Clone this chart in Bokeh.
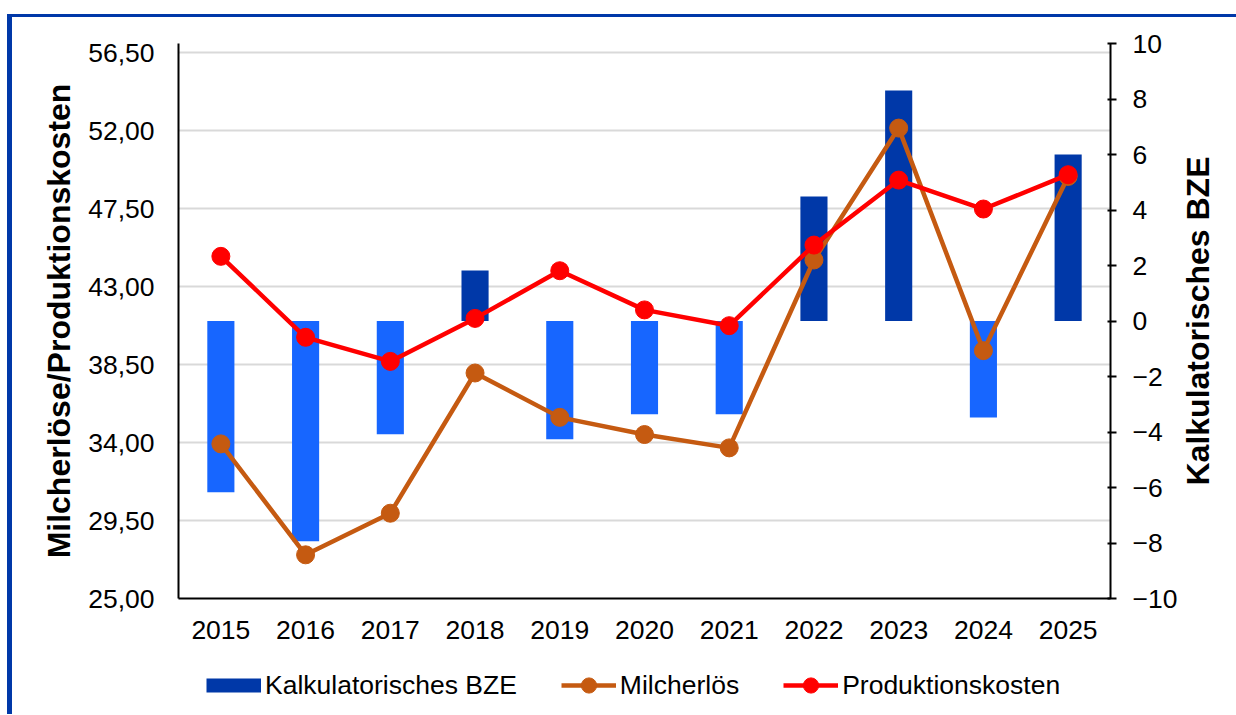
import math
from bokeh.plotting import figure
from bokeh.layouts import column, row
from bokeh.models import (Range1d, LinearAxis, FixedTicker, CustomJSTickFormatter,
                          Legend, LegendItem, ColumnDataSource, Label)
from bokeh.embed import file_html
from bokeh.resources import INLINE

# ---------------- data ----------------
years = ["2015", "2016", "2017", "2018", "2019", "2020", "2021", "2022", "2023", "2024", "2025"]
bze = [-6.17, -7.94, -4.08, 1.82, -4.26, -3.36, -3.36, 4.49, 8.31, -3.48, 6.00]
milcherloes = [33.92, 27.52, 29.92, 38.01, 35.45, 34.46, 33.69, 44.53, 52.14, 39.30, 49.35]
produktionskosten = [44.74, 40.07, 38.68, 41.16, 43.91, 41.65, 40.74, 45.39, 49.14, 47.47, 49.45]
left_ticks = [25.0, 29.5, 34.0, 38.5, 43.0, 47.5, 52.0, 56.5]
right_ticks = [-10, -8, -6, -4, -2, 0, 2, 4, 6, 8, 10]

# ---------------- style ----------------
DARK = "#0038A8"
LIGHT = "#1766FF"
ORANGE = "#C55A11"
RED = "#FF0000"
FONT = "Liberation Sans"
TICK_FS = "26.5px"
TITLE_FS = "32px"

# content origin on the page (inside the blue border)
OX, OY = 12, 17
FL, FT, FR, FB = 178 - OX, 43 - OY, 1111 - OX, 598 - OY   # frame edges in content px
WP, HP = 1180 - OX, 653 - OY          # main chart canvas
WT = 1236 - 1180                      # right title strip
HL = 714 - 653                        # legend strip

p = figure(width=WP, height=HP, x_range=years, y_range=Range1d(25, 57.02),
           output_backend="svg", toolbar_location=None,
           min_border_left=FL, min_border_right=WP - FR,
           min_border_top=FT, min_border_bottom=HP - FB)
p.extra_y_ranges = {"bze": Range1d(-10, 10)}
p.outline_line_color = None
p.background_fill_color = "white"
p.border_fill_color = "white"

# grid
p.xgrid.grid_line_color = None
p.ygrid[0].ticker = FixedTicker(ticks=left_ticks)
p.ygrid.grid_line_color = "#D9D9D9"
p.ygrid.grid_line_width = 2

# left axis
ly = p.yaxis[0]
ly.ticker = FixedTicker(ticks=left_ticks)
ly.formatter = CustomJSTickFormatter(code="return tick.toFixed(2).replace('.', ',');")
ly.major_tick_out = 0
ly.major_tick_in = 0
ly.minor_tick_out = 0
ly.minor_tick_in = 0
ly.axis_line_color = "black"
ly.axis_line_width = 2
ly.major_label_standoff = 24
ly.major_label_text_font = FONT
ly.major_label_text_font_size = TICK_FS
ly.major_label_text_color = "black"
ly.axis_label = "Milcherlöse/Produktionskosten"
ly.axis_label_text_font = FONT
ly.axis_label_text_font_style = "bold"
ly.axis_label_text_font_size = TITLE_FS
ly.axis_label_text_color = "black"
ly.axis_label_standoff = 8

# bottom axis
bx = p.xaxis[0]
bx.major_tick_out = 0
bx.major_tick_in = 0
bx.axis_line_color = "black"
bx.axis_line_width = 2
bx.major_label_standoff = 22
bx.major_label_text_font = FONT
bx.major_label_text_font_size = TICK_FS
bx.major_label_text_color = "black"

# right axis
ry = LinearAxis(y_range_name="bze", ticker=FixedTicker(ticks=right_ticks))
ry.major_tick_out = 6
ry.major_tick_in = 3
ry.minor_tick_out = 0
ry.minor_tick_in = 0
ry.major_tick_line_color = "black"
ry.major_tick_line_width = 2
ry.axis_line_color = "black"
ry.axis_line_width = 2
ry.major_label_standoff = 16
ry.major_label_text_font = FONT
ry.major_label_text_font_size = TICK_FS
ry.major_label_text_color = "black"
p.add_layout(ry, "right")

# bars
colors = [DARK if v >= 0 else LIGHT for v in bze]
src = ColumnDataSource(data=dict(year=years, bze=bze, color=colors))
bars = p.vbar(x="year", top="bze", bottom=0, width=0.32, source=src,
              fill_color="color", line_color=None, y_range_name="bze")

# lines
p.line(years, milcherloes, line_color=ORANGE, line_width=4.5)
p.scatter(years, milcherloes, size=18, fill_color=ORANGE, line_color=ORANGE)
p.line(years, produktionskosten, line_color=RED, line_width=4.5)
p.scatter(years, produktionskosten, size=18, fill_color=RED, line_color=RED)

# ---------------- right axis title strip ----------------
tfig = figure(width=WT, height=HP, x_range=Range1d(0, 1), y_range=Range1d(0, 1),
              output_backend="svg", toolbar_location=None,
              x_axis_location=None, y_axis_location=None,
              min_border_left=0, min_border_right=0, min_border_top=0, min_border_bottom=0)
tfig.grid.visible = False
tfig.outline_line_color = None
tfig.add_layout(Label(x=1197.5 - 1180, y=HP - (320.5 - OY) - 55, x_units="screen", y_units="screen",
                      text="Kalkulatorisches BZE", angle=math.pi / 2,
                      text_align="center", text_baseline="middle",
                      text_font=FONT, text_font_style="bold", text_font_size=TITLE_FS,
                      text_color="black"))

# ---------------- legend strip ----------------
lfig = figure(width=WP + WT, height=HL, x_range=years, y_range=Range1d(0, 1),
              output_backend="svg", toolbar_location=None,
              x_axis_location=None, y_axis_location=None,
              min_border_left=0, min_border_right=0, min_border_top=0, min_border_bottom=0)
lfig.grid.visible = False
lfig.outline_line_color = None
# legend-only renderers (single points outside the strip's range, so nothing is drawn)
sw = lfig.line(x=years[:1], y=bze[:1], line_color=DARK, line_width=14, line_cap="butt")
lm = lfig.line(x=years[:1], y=milcherloes[:1], line_color=ORANGE, line_width=4.5)
sm = lfig.scatter(x=years[:1], y=milcherloes[:1], size=18, fill_color=ORANGE, line_color=ORANGE)
lp = lfig.line(x=years[:1], y=produktionskosten[:1], line_color=RED, line_width=4.5)
sp = lfig.scatter(x=years[:1], y=produktionskosten[:1], size=18, fill_color=RED, line_color=RED)

legend = Legend(items=[
    LegendItem(label="Kalkulatorisches BZE", renderers=[sw]),
    LegendItem(label="Milcherlös", renderers=[lm, sm]),
    LegendItem(label="Produktionskosten", renderers=[lp, sp]),
], orientation="horizontal", location=(206 - OX, HL - (666 - 653) - 38),
    glyph_width=55, glyph_height=38,
    label_standoff=4, spacing=44, padding=0, margin=0,
    border_line_color=None, background_fill_alpha=0,
    label_text_font=FONT, label_text_font_size=TICK_FS, label_text_color="black")
lfig.add_layout(legend, "center")

page = column(row(p, tfig), lfig,
              styles={"margin-left": "7px", "margin-top": "14px",
                      "border-left": "5px solid " + DARK, "border-top": "3px solid " + DARK})

open("out.html", "w").write(file_html(page, INLINE))
